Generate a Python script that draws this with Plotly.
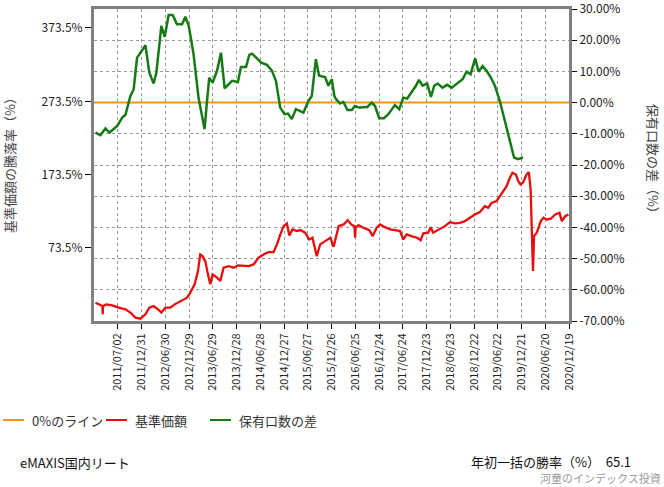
import plotly.graph_objects as go
from datetime import date, timedelta

# ---------------- data ----------------
# 保有口数の差 (%) : right axis
diff_dates = ["2011-01-12","2011-02-19","2011-03-30","2011-04-30","2011-06-28","2011-08-05","2011-08-30",
              "2011-10-07","2011-11-01","2011-11-27","2011-12-23","2012-01-30","2012-02-29","2012-04-02",
              "2012-04-23","2012-05-31","2012-06-26","2012-07-26","2012-08-26","2012-09-28","2012-11-06",
              "2012-12-01","2012-12-27","2013-02-02","2013-03-12","2013-04-07","2013-04-27","2013-05-16",
              "2013-06-02","2013-06-28","2013-08-01","2013-08-31","2013-09-28","2013-11-24","2014-01-08",
              "2014-01-31","2014-03-11","2014-04-05","2014-04-26","2014-07-06","2014-08-18","2014-09-26",
              "2014-10-26","2014-11-28","2014-12-31","2015-01-26","2015-02-25","2015-03-28","2015-05-25",
              "2015-07-02","2015-07-28","2015-08-28","2015-09-22","2015-11-07","2015-12-02","2015-12-28",
              "2016-01-17","2016-01-30","2016-03-01","2016-03-26","2016-04-26","2016-05-29","2016-06-23",
              "2016-07-26","2016-08-26","2016-09-26","2016-10-29","2016-11-23","2016-12-26","2017-01-31",
              "2017-03-05","2017-04-25","2017-05-28","2017-06-28","2017-07-28","2017-09-08","2017-10-03",
              "2017-10-26","2017-11-23","2017-12-28","2018-01-26","2018-02-20","2018-03-18","2018-04-25",
              "2018-05-30","2018-07-04","2018-08-11","2018-09-26","2018-10-26","2018-11-26","2018-12-31",
              "2019-01-26","2019-02-26","2019-03-28","2019-04-28","2019-05-31","2019-07-08","2019-08-15",
              "2019-09-22","2019-10-25","2019-11-25","2019-12-11","2020-01-02"]
diff_vals = [-9.6,-10.4,-8.3,-9.6,-7.5,-4.8,-3.9,
             2.1,4.3,14.4,16.0,18.4,9.6,6.1,
             9.6,24.6,21.1,28.1,28.1,25.1,25.1,
             27.5,24.6,15.5,1.6,-3.7,-8.5,0.5,
             8.0,6.4,10.2,16.0,4.6,7.0,6.6,
             11.4,11.4,15.3,15.7,12.8,12.1,10.2,
             7.0,-1.6,-3.7,-3.5,-5.3,-2.1,-3.2,
             0.5,2.1,13.9,8.6,8.2,5.4,7.5,
             2.1,1.1,-0.3,0.2,-2.4,-2.4,-1.1,
             -1.6,-1.4,-1.4,0.0,-1.1,-5.0,-5.0,
             -3.7,-0.8,-2.1,1.6,1.3,3.7,5.4,
             7.3,5.4,6.1,1.8,5.4,6.1,4.8,
             5.7,4.8,6.1,7.5,9.9,9.1,14.2,
             9.9,11.7,10.2,8.2,5.4,0.5,-5.9,
             -12.3,-17.6,-18.1,-17.8,-17.6]

# 基準価額の騰落率 (%) : left axis
nav_dates = ["2011-01-12","2011-02-07","2011-03-07","2011-03-09","2011-03-11","2011-04-04","2011-05-20","2011-07-10",
             "2011-08-30","2011-10-07","2011-11-14","2011-12-23","2012-01-30","2012-02-29","2012-04-02",
             "2012-05-06","2012-05-31","2012-07-01","2012-08-08","2012-09-10","2012-10-11","2012-11-18",
             "2012-12-14","2013-01-08","2013-02-10","2013-03-08","2013-03-25","2013-04-12","2013-05-03",
             "2013-05-23","2013-06-10","2013-06-28","2013-08-01","2013-08-26","2013-09-20","2013-10-29",
             "2013-12-06","2014-01-08","2014-02-20","2014-03-31","2014-05-08","2014-06-15","2014-07-23",
             "2014-08-30","2014-10-08","2014-11-03","2014-11-29","2014-12-24","2015-01-18","2015-02-06",
             "2015-03-02","2015-04-05","2015-04-30","2015-06-07","2015-07-08","2015-08-02","2015-09-04",
             "2015-09-30","2015-11-07","2015-12-17","2016-01-11","2016-02-01","2016-02-19","2016-03-28",
             "2016-04-28","2016-05-25","2016-06-19","2016-06-24","2016-06-28","2016-07-20","2016-08-26",
             "2016-10-11","2016-11-06","2016-12-06","2017-01-01","2017-02-08","2017-03-18","2017-04-26",
             "2017-06-03","2017-06-28","2017-07-24","2017-09-08","2017-10-13","2017-11-08","2017-11-29",
             "2018-01-05","2018-01-24","2018-02-12","2018-03-23","2018-05-13","2018-06-21","2018-07-29",
             "2018-09-05","2018-10-13","2018-11-21","2018-12-29","2019-02-05","2019-03-15","2019-04-10",
             "2019-05-06","2019-06-13","2019-07-08","2019-08-03","2019-08-29","2019-09-23","2019-10-13",
             "2019-11-08","2019-11-26","2019-12-14","2020-01-03","2020-01-28","2020-02-15","2020-02-29",
             "2020-03-10","2020-03-18","2020-03-26","2020-04-16","2020-05-17","2020-06-06","2020-06-29",
             "2020-08-02","2020-09-04","2020-10-07","2020-10-25","2020-11-20","2020-12-15"]
nav_vals = [-1.2,-3.5,-5.8,-17.0,-6.0,-3.5,-4.8,-8.0,
            -10.3,-14.8,-21.6,-23.0,-17.1,-8.0,-5.8,
            -10.3,-14.8,-8.0,-8.0,-3.5,-0.3,3.3,
            5.6,12.5,23.8,41.9,64.6,62.3,55.5,
            37.4,23.8,37.4,32.9,28.3,46.5,48.7,
            46.5,49.7,49.7,48.7,51.0,60.2,64.6,
            67.8,67.8,78.3,91.9,103.2,106.9,90.5,
            98.7,96.4,97.8,94.2,85.0,87.4,62.3,
            78.3,82.8,87.4,75.1,89.6,103.2,105.5,
            111.4,105.5,103.2,87.4,101.0,104.6,101.0,
            97.8,89.6,101.0,105.5,101.8,98.7,97.8,
            96.4,85.0,91.9,88.8,87.4,84.1,93.3,
            94.2,101.8,94.2,97.8,103.2,108.6,106.9,
            107.8,110.0,114.6,119.1,122.3,130.4,128.3,
            134.9,137.3,144.1,149.5,157.7,169.1,176.0,
            173.6,164.5,160.0,163.1,173.6,176.8,153.2,
            103.2,41.9,89.6,94.2,110.0,114.6,112.3,
            113.3,119.1,121.5,110.0,116.7,119.1]

# 0%のライン
zero_dates = ["2011-01-01", "2020-12-19"]
zero_vals = [0, 0]

# x tick labels (every 26 weeks)
tick_start = date(2011, 7, 2)
x_tick_dates = [tick_start + timedelta(days=182 * i) for i in range(20)]
x_tick_text = [d.strftime("%Y/%m/%d") for d in x_tick_dates]

left_tick_vals = [73.5, 173.5, 273.5, 373.5]
left_tick_text = ["73.5%", "173.5%", "273.5%", "373.5%"]
right_tick_vals = [-70, -60, -50, -40, -30, -20, -10, 0, 10, 20, 30]
right_tick_text = ["%.2f%%" % v for v in right_tick_vals]

series_names = ["0%のライン", "基準価額", "保有口数の差"]
series_colors = ["#f0961e", "#e80c0c", "#167a16"]

FONT = "Noto Sans CJK JP"
W, H = 664, 487
L, R, T, B = 94, 95, 9, 166
PW, PH = W - L - R, H - T - B


def px(xp):
    return (xp - L) / PW


def py(yp):
    return (H - B - yp) / PH


fig = go.Figure()
fig.add_trace(go.Scatter(x=zero_dates, y=zero_vals, yaxis="y2", mode="lines",
                         line=dict(color=series_colors[0], width=2), name=series_names[0]))
fig.add_trace(go.Scatter(x=nav_dates, y=nav_vals, yaxis="y", mode="lines",
                         line=dict(color=series_colors[1], width=2.3), name=series_names[1]))
fig.add_trace(go.Scatter(x=diff_dates, y=diff_vals, yaxis="y2", mode="lines",
                         line=dict(color=series_colors[2], width=2.5), name=series_names[2]))

axis_line = dict(showline=True, linecolor="#808080", linewidth=3, automargin=False,
                 ticklabeloverflow="allow")

# custom legend (line samples + labels)
legend_line_x = [(3, 24), (106, 127), (210, 231)]
legend_text_x = [30, 133, 237]
legend_y = 420
shapes = []
annotations = []
for (x0, x1), tx, name, col in zip(legend_line_x, legend_text_x, series_names, series_colors):
    shapes.append(dict(type="line", xref="paper", yref="paper", x0=px(x0), x1=px(x1),
                       y0=py(legend_y), y1=py(legend_y), line=dict(color=col, width=2)))
    annotations.append(dict(text=name, xref="paper", yref="paper", x=px(tx), y=py(legend_y),
                            xanchor="left", yanchor="middle", showarrow=False,
                            font=dict(size=13, color="#333")))

annotations += [
    dict(text="基準価額の騰落率（%）", xref="paper", yref="paper", x=px(10), y=0.51,
         xanchor="center", yanchor="middle",
         textangle=-90, showarrow=False, font=dict(size=13, color="#444")),
    dict(text="保有口数の差（%）", xref="paper", yref="paper", x=px(653), y=0.51,
         xanchor="center", yanchor="middle",
         textangle=90, showarrow=False, font=dict(size=13, color="#444")),
    dict(text="eMAXIS国内リート", xref="paper", yref="paper", x=px(19),
         y=py(462), xanchor="left", yanchor="middle", showarrow=False, borderpad=0,
         font=dict(size=13, color="#111")),
    dict(text="年初一括の勝率（%）  65.1", xref="paper", yref="paper", x=px(470),
         y=py(461), xanchor="left", yanchor="middle", showarrow=False, borderpad=0,
         font=dict(size=13, color="#111")),
    dict(text="河童のインデックス投資", xref="paper", yref="paper", x=px(662),
         y=py(487), xanchor="right", yanchor="bottom", showarrow=False, borderpad=0,
         font=dict(size=11, color="#999")),
]

fig.update_layout(
    width=W, height=H,
    margin=dict(l=L, r=R, t=T, b=B, autoexpand=False),
    paper_bgcolor="white", plot_bgcolor="white",
    font=dict(family=FONT, size=12, color="#222"),
    showlegend=False,
    xaxis=dict(type="date", range=["2011-01-01", "2020-12-19"],
               tickvals=x_tick_dates, ticktext=x_tick_text, tickangle=-90,
               tickfont=dict(size=11, color="#222"),
               ticks="outside", ticklen=5, tickcolor="#000",
               showgrid=True, gridcolor="#9a9a9a", griddash="dot", gridwidth=1,
               mirror=True, zeroline=False, **axis_line),
    yaxis=dict(range=[-26.2, 399.4], tickvals=left_tick_vals, ticktext=left_tick_text,
               tickfont=dict(size=12, color="#222"),
               ticks="outside", ticklen=6, tickcolor="#000",
               showgrid=False, zeroline=False, **axis_line),
    yaxis2=dict(range=[-70, 30], overlaying="y", side="right",
                tickvals=right_tick_vals, ticktext=right_tick_text,
                tickfont=dict(size=12, color="#222"),
                ticks="outside", ticklen=5, tickcolor="#000",
                showgrid=True, gridcolor="#9a9a9a", griddash="dot", gridwidth=1,
                zeroline=False, **axis_line),
    shapes=shapes,
    annotations=annotations,
)

fig.write_html("out.html")
